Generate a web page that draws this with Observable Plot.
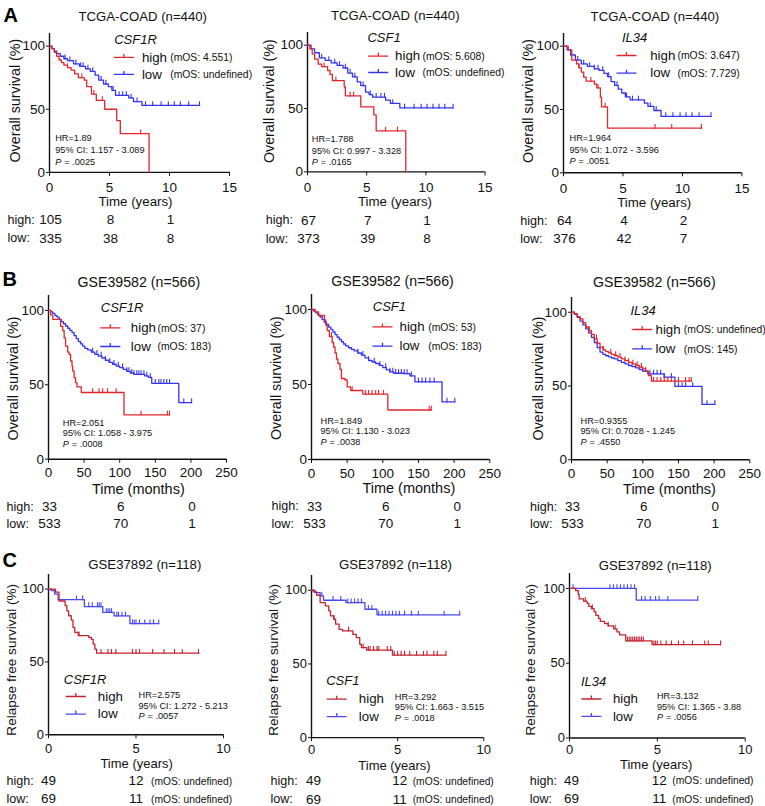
<!DOCTYPE html>
<html><head><meta charset="utf-8">
<script src="https://cdn.jsdelivr.net/npm/d3@7"></script>
<script src="https://cdn.jsdelivr.net/npm/@observablehq/plot@0.6"></script>
<style>
html,body{margin:0;padding:0;background:#fff;overflow:hidden;}
#chart{position:relative;width:765px;height:806px;font-family:"Liberation Sans",Arial,Helvetica,sans-serif;}
#chart svg{position:absolute;}
</style></head><body><div id="chart"></div>
<script>
// ---------- DATA ----------
const xTicksYears15 = [0,5,10,15];
const xTicksMonths = [0,50,100,150,200,250];
const xTicksYears10 = [0,5,10];
const yTicks = [0,50,100];

// Row A: TCGA-COAD, overall survival (years)
const a1High = [[0,100],[0.2,98],[0.4,95],[0.6,92],[0.8,89],[1.0,87],[1.2,85],[1.5,83],[1.8,81],[2.1,78],[2.4,75],[2.9,73],[3.1,68],[3.5,62],[3.9,57],[4.6,50],[5.6,41],[5.9,30.7],[8.3,0]];
const a1HighCens = [1.5,2.7,3.7,4.4,7.6];
const a1Low = [[0,100],[0.2,98],[0.4,96],[0.6,94],[0.9,92],[1.2,90],[1.5,88.5],[2,86],[2.5,84],[3,82],[3.4,80],[3.8,77],[4.1,73],[4.5,70],[4.9,68],[5.2,65],[5.5,61],[6.6,59],[7.0,56],[7.7,53],[12.5,53]];
const a1LowCens = [1.3,1.7,2.2,2.6,2.8,3.2,3.6,4.3,4.7,5.3,5.8,6.1,6.4,6.8,7.3,8.0,8.6,9.3,9.9,10.4,10.9,11.6,12.5];

const a2High = [[0,100],[0.2,97],[0.4,93],[0.6,89],[0.9,85],[1.2,83],[1.7,80],[1.9,77],[2.1,72],[3.1,67],[3.2,60],[4.5,51.3],[5.6,45],[5.8,32.4],[8.3,0]];
const a2HighCens = [1.4,2.4,3.6,3.9,6.6,7.6];
const a2Low = [[0,100],[0.3,97],[0.6,94],[1,90],[1.5,88],[2,86],[2.5,84],[3,82],[3.4,78],[3.8,75],[4.2,71],[4.5,68],[4.9,63],[5.2,61],[5.5,59],[6.6,56.6],[7.0,54],[7.8,50.5],[12.3,50.5]];
const a2LowCens = [1.2,1.8,2.3,2.7,3.2,3.6,4.0,4.7,5.3,5.8,6.2,6.5,7.2,8.2,9.0,9.6,10.1,10.6,11.1,11.6,12.3];

const a3High = [[0,100],[0.4,97],[0.7,89],[1.1,86],[1.3,83],[1.5,79.5],[1.7,75.5],[1.9,72.4],[2.6,70],[2.8,67],[3.1,59.7],[3.2,52],[3.7,35.3],[11.6,35.3]];
const a3HighCens = [1.3,2.3,2.9,3.5,7.7,9.1,11.6];
const a3Low = [[0,100],[0.3,97],[0.6,93],[1,89],[1.5,86],[2,84],[2.6,82],[3,80.8],[3.4,78.5],[3.7,76],[4,72],[4.3,69],[4.6,66],[4.9,63],[5.2,60],[5.6,57.6],[6.8,55],[7.1,52.4],[7.6,49.2],[8.2,44.5],[12.4,44.5]];
const a3LowCens = [1.2,1.7,2.2,2.6,2.9,3.3,3.8,4.5,5.3,5.8,6.3,7.3,7.8,8.6,9.2,9.8,10.3,10.8,11.4,12.4];

// Row B: GSE39582, overall survival (months)
const b1High = [[0,100],[3,97],[6,94],[17,89.3],[20,86.4],[22,81.5],[24,76],[27,72],[29,70.4],[31,66],[33,62.6],[34,59.2],[36,54.8],[38,51.4],[40,48.6],[46,44.8],[106,29.8],[170,29.8]];
const b1HighCens = [62,71,76,83,95,130,167,170];
const b1Low = [[0,100],[3,99],[6,98],[9,96.5],[12,95.5],[15,94],[18,92.5],[21,91],[24,89.5],[27,88],[30,86.5],[33,85],[36,83],[39,81],[42,79],[45,77.5],[48,76],[51,74.5],[55,73.5],[60,72],[65,70.5],[70,69.3],[75,68],[80,66.5],[85,65],[90,63.8],[95,62.6],[100,61.5],[105,60.3],[110,59],[115,57.8],[120,57],[135,56],[140,55],[145,51],[183,38],[201,38]];
const b1LowCens = [62,68,74,80,86,92,98,104,110,113,117,120,124,127,130,134,138,143,150,155,158,162,166,170,190,201];

const b2High = [[0,100],[5,98.4],[10,96],[18,93],[20,89.6],[22,86],[25,82],[29,78],[31,75],[33,71],[35,67],[37,64],[40,60],[42,54],[47,53],[50,48.4],[55,46],[72,43.6],[107,33],[168,33]];
const b2HighCens = [28,57,76,80,85,90,94,101,165,168];
const b2Low = [[0,100],[3,99],[6,97.8],[9,96.3],[12,95],[15,93.3],[18,91.5],[21,90],[24,88.3],[27,86.8],[30,85],[33,83.3],[36,81.5],[39,80],[42,78.5],[45,77],[48,75.7],[52,74.5],[56,73.4],[60,72.4],[65,71],[70,69.6],[75,67.8],[80,66],[85,65],[90,64],[95,62.7],[100,61.3],[105,59.8],[110,58.4],[115,57.5],[130,57.3],[138,55.8],[145,51.8],[183,38.4],[201,38.4]];
const b2LowCens = [65,72,80,88,96,104,110,114,118,122,126,130,134,140,150,155,160,166,172,190,201];

const b3High = [[0,100],[4,99],[8,97],[12,95.5],[16,93],[20,90],[24,87.5],[28,85],[32,82],[36,79],[40,76.3],[44,74.5],[48,73.3],[52,72.4],[56,71.5],[60,70.7],[65,69.6],[70,68.4],[75,67.2],[80,66],[85,65],[90,63.9],[95,62.8],[100,61.6],[104,60],[108,57],[112,53.3],[168,53.3]];
const b3HighCens = [25,35,45,55,62,68,75,80,86,92,98,104,115,120,125,130,135,140,150,160,165,168];
const b3Low = [[0,100],[4,98.5],[8,96.5],[12,94],[16,91.5],[20,88.7],[24,86],[28,83],[32,79.5],[36,76],[40,73],[44,71.5],[48,70.5],[52,69.8],[56,69],[60,68.4],[65,67.2],[70,66],[75,65],[80,63.9],[85,63.1],[90,62.3],[95,61.2],[100,60],[107,58.2],[130,56],[145,49.7],[183,37.5],[201,37.5]];
const b3LowCens = [110,115,120,125,130,140,150,155,160,170,190,201];

// Row C: GSE37892, relapse free survival (years)
const c1High = [[0,100],[0.4,97.9],[0.6,91.8],[0.95,88.6],[1.05,85],[1.15,81.7],[1.3,78.7],[1.4,73.7],[1.5,70.3],[1.7,68],[2.3,66.8],[2.45,65.5],[2.55,62.2],[2.65,58.8],[2.75,56],[8.6,56]];
const c1HighCens = [1.75,3.0,3.4,3.6,3.85,4.8,5.0,5.2,5.95,6.6,7.2,7.65,8.57];
const c1Low = [[0,100],[0.15,98.9],[0.35,96.6],[0.55,92.7],[2.05,88],[3.1,84],[3.75,81.6],[4.65,76.3],[6.3,76.3]];
const c1LowCens = [1.6,1.95,2.3,2.5,2.8,2.9,3.0,3.3,3.4,3.5,3.6,3.9,4.0,4.2,4.4,4.8,4.9,5.0,5.2,5.5,5.8,6.0,6.3];

const c2High = [[0,100],[0.1,98.9],[0.3,96.6],[0.5,91.6],[0.8,89.4],[1.0,86],[1.1,82.6],[1.3,80.3],[1.4,77],[1.6,73.5],[1.8,72.4],[2.4,70],[2.6,67.9],[2.8,63.3],[2.9,61],[3.2,59.3],[4.7,56],[7.8,56]];
const c2HighCens = [1.3,2.15,3.0,3.3,3.4,3.6,3.8,3.9,4.4,4.6,4.8,5.0,5.2,5.4,5.7,6.1,6.5,6.7,7.1,7.3,7.8];
const c2Low = [[0,100],[0.2,98.4],[0.5,96.2],[0.7,93.2],[2.0,91.6],[3.1,87.1],[3.8,83.3],[8.6,83.3]];
const c2LowCens = [0.6,1.25,1.7,2.1,2.3,2.5,2.7,2.9,3.3,3.5,3.9,4.1,4.3,4.5,4.7,4.9,5.1,5.4,5.8,6.2,7.7,8.6];

const c3High = [[0,100],[0.35,98.5],[0.5,96],[0.55,93],[0.8,91.5],[1.0,90],[1.1,88],[1.25,86.5],[1.4,84.5],[1.5,82],[1.65,80],[1.75,78],[2.0,76.5],[2.2,75],[2.5,73],[2.7,71],[2.85,69],[3.2,65],[4.7,62.4],[8.6,62.4]];
const c3HighCens = [0.9,1.3,2.2,2.6,3.3,3.4,3.5,3.6,3.7,3.8,3.9,4.0,4.1,4.2,4.8,4.9,5.0,5.2,5.5,5.8,6.2,6.5,7.0,7.7,7.9,8.6];
const c3Low = [[0,100],[3.8,92.2],[7.3,92.2]];
const c3LowCens = [0.2,2.3,2.5,2.7,2.9,3.1,3.3,3.5,3.7,4.1,4.3,4.6,4.9,5.1,5.6,7.3];

// Legend / statistics text
const a1Mos = ["(mOS: 4.551)","(mOS: undefined)"];
const a2Mos = ["(mOS: 5.608)","(mOS: undefined)"];
const a3Mos = ["(mOS: 3.647)","(mOS: 7.729)"];
const b1Mos = ["(mOS: 37)","(mOS: 183)"];
const b2Mos = ["(mOS: 53)","(mOS: 183)"];
const b3Mos = ["(mOS: undefined)","(mOS: 145)"];
const cMos = ["(mOS: undefined)","(mOS: undefined)"];

const a1Stats = ["HR=1.89","95% CI: 1.157 - 3.089","= .0025"];
const a2Stats = ["HR=1.788","95% CI: 0.997 - 3.328","= .0165"];
const a3Stats = ["HR=1.964","95% CI: 1.072 - 3.596","= .0051"];
const b1Stats = ["HR=2.051","95% CI: 1.058 - 3.975","= .0008"];
const b2Stats = ["HR=1.849","95% CI: 1.130 - 3.023","= .0038"];
const b3Stats = ["HR=0.9355","95% CI: 0.7028 - 1.245","= .4550"];
const c1Stats = ["HR=2.575","95% CI: 1.272 - 5.213","= .0057"];
const c2Stats = ["HR=3.292","95% CI: 1.663 - 3.515","= .0018"];
const c3Stats = ["HR=3.132","95% CI: 1.365 - 3.88","= .0056"];

// Numbers at risk
const riskTimesA = [0,5,10];
const riskTimesB = [0,100,200];
const riskTimesC = [0,5];
const a1RiskHigh = [105,8,1], a1RiskLow = [335,38,8];
const a2RiskHigh = [67,7,1],  a2RiskLow = [373,39,8];
const a3RiskHigh = [64,4,2],  a3RiskLow = [376,42,7];
const bRiskHigh = [33,6,0],   bRiskLow = [533,70,1];
const cRiskHigh = [49,12],    cRiskLow = [69,11];

// ---------- RENDER ----------
const FONT = '"Liberation Sans", Arial, Helvetica, sans-serif';
const RED = "#e3262c", BLUE = "#3434ee", RED_C = "#c3242f", BLUE_C = "#4848f4";
const chart = document.getElementById("chart");
const tickSym = {draw(ctx){ ctx.moveTo(0,0.6); ctx.lineTo(0,-4.2); }};
const legSym = {draw(ctx){ ctx.moveTo(-10,0); ctx.lineTo(10,0); ctx.moveTo(0,0); ctx.lineTo(0,-3.5); }};
function stepAt(curve, t){ let v = curve[0][1]; for (const [x,y] of curve){ if (x <= t) v = y; else break; } return v; }

function panel(p){
  const [L,R,T,B] = p.frame;
  const mL=56, mR=30, mT=38, mB=84;
  const W = R-L+mL+mR, H = B-T+mT+mB;
  const at = (x,y) => ({frameAnchor:"top-left", dx:x-L, dy:y-T});
  const txt = (s, o) => Plot.text([s], {text:d=>d, fill:"#111", fontFamily:FONT, lineAnchor:"middle", ...o});
  const marks = [];
  marks.push(Plot.ruleY([0], {stroke:"#111", strokeWidth:1.4}));
  marks.push(Plot.ruleX([0], {stroke:"#111", strokeWidth:1.4}));
  for (const [curve, cens, color] of [[p.low,p.lowCens,p.blue],[p.high,p.highCens,p.red]]){
    marks.push(Plot.line(curve, {x:d=>d[0], y:d=>d[1], curve:"step-after", stroke:color, strokeWidth:1.3}));
    marks.push(Plot.dot(cens, {x:d=>d, y:d=>stepAt(curve,d), symbol:tickSym, stroke:color, fill:"none", strokeWidth:1.1}));
  }
  if (p.letter) marks.push(txt(p.letter, {...at(...p.letterPos), textAnchor:"start", fontSize:20, fontWeight:"bold", fill:"#000"}));
  marks.push(txt(p.title, {...at(...p.titlePos), textAnchor:"middle", fontSize:p.titleSize}));
  marks.push(txt(p.ylabel, {...at(...p.ylabelPos), textAnchor:"middle", rotate:-90, fontSize:p.ylabelSize}));
  marks.push(txt(p.xlabel, {...at(...p.xlabelPos), textAnchor:"middle", fontSize:p.xlabelSize}));
  // legend
  marks.push(txt(p.gene, {...at(...p.genePos), textAnchor:"start", fontSize:13, fontStyle:"italic"}));
  const groups = [["high", p.red], ["low", p.blue]];
  groups.forEach(([name, color], i) => {
    const y = p.legY[i];
    marks.push(Plot.dot([0], {...at(p.legLineX, y), symbol:legSym, stroke:color, fill:"none", strokeWidth:1.3}));
    marks.push(txt(name, {...at(p.legTextX, y), textAnchor:"start", fontSize:13.3}));
    if (p.mos) marks.push(txt(p.mos[i], {...at(p.mosX, y+0.5), textAnchor:"start", fontSize:10.4}));
  });
  // stats
  const [sx, sy] = p.statsPos;
  marks.push(txt(p.stats[0], {...at(sx, sy[0]), textAnchor:"start", fontSize:9.2}));
  marks.push(txt(p.stats[1], {...at(sx, sy[1]), textAnchor:"start", fontSize:9.2}));
  marks.push(txt("P", {...at(sx, sy[2]), textAnchor:"start", fontSize:9.2, fontStyle:"italic"}));
  marks.push(txt(p.stats[2], {...at(sx+9, sy[2]), textAnchor:"start", fontSize:9.2}));
  // numbers at risk
  [["high:", p.riskHigh], ["low:", p.riskLow]].forEach(([lab, vals], i) => {
    const y = p.riskY[i];
    marks.push(txt(lab, {...at(p.riskLabelX, y), textAnchor:"start", fontSize:12.6}));
    marks.push(Plot.text(p.riskTimes.map((t,k)=>({t, n:vals[k]})), {x:"t", text:d=>String(d.n), frameAnchor:"bottom", dy:y-B, dx:p.riskNumDx || 0, lineAnchor:"middle", textAnchor:"middle", fontSize:13.5, fontFamily:FONT, fill:"#111"}));
    if (p.riskMos) marks.push(Plot.text([p.riskTimes[p.riskTimes.length-1]], {x:d=>d, text:()=>p.riskMos[i], frameAnchor:"bottom", dy:y-B+0.5, dx:p.riskMosDx, lineAnchor:"middle", textAnchor:"start", fontSize:10.3, fontFamily:FONT, fill:"#111"}));
  });

  const svg = Plot.plot({
    width:W, height:H, marginLeft:mL, marginRight:mR, marginTop:mT, marginBottom:mB,
    x:{domain:[0,p.xMax], ticks:p.xTicks, tickSize:4, tickPadding:p.xPad, label:null},
    y:{domain:[0,110], ticks:yTicks, tickSize:3, tickPadding:1.6, label:null},
    style:{background:"transparent", overflow:"visible", fontFamily:FONT, fontSize:p.tickFont, color:"#111"},
    marks
  });
  svg.style.left = (L-mL)+"px";
  svg.style.top = (T-mT)+"px";
  svg.style.maxWidth = "none";
  chart.appendChild(svg);
}

const common = {
  A:{xMax:15, xTicks:xTicksYears15, xPad:6.5, tickFont:"13.5px", ylabel:"Overall survival (%)", ylabelSize:14.3, xlabel:"Time (years)", xlabelSize:13.3, title:"TCGA-COAD (n=440)", titleSize:13.2, red:RED, blue:BLUE, riskTimes:riskTimesA, riskY:[220,238.3], riskNumDx:1},
  B:{xMax:250, xTicks:xTicksMonths, xPad:4.6, tickFont:"13.5px", ylabel:"Overall survival (%)", ylabelSize:14.3, xlabel:"Time (months)", xlabelSize:14.5, title:"GSE39582 (n=566)", titleSize:14.2, red:RED, blue:BLUE, riskTimes:riskTimesB, riskY:[506,523.3], riskHigh:bRiskHigh, riskLow:bRiskLow, riskNumDx:1},
  C:{xMax:10, xTicks:xTicksYears10, xPad:4.6, tickFont:"13px", ylabel:"Relapse free survival (%)", ylabelSize:13.6, xlabel:"Time (years)", xlabelSize:13, title:"GSE37892 (n=118)", titleSize:13.2, red:RED_C, blue:BLUE_C, riskTimes:riskTimesC, riskY:[780,798.3], riskHigh:cRiskHigh, riskLow:cRiskLow, riskMos:cMos, riskMosDx:15, riskNumDx:0}
};

const panels = [
  {...common.A, frame:[49.3,229.3,33.4,172.3], letter:"A", letterPos:[3.3,15], titlePos:[142.5,16.5], ylabelPos:[15,100.5], xlabelPos:[135.3,202],
   high:a1High, highCens:a1HighCens, low:a1Low, lowCens:a1LowCens, gene:"CSF1R", genePos:[114,39.3], legLineX:123.7, legY:[57.3,74.3], legTextX:141.7, mosX:170, mos:a1Mos,
   stats:a1Stats, statsPos:[55,[137.5,150,162]], riskHigh:a1RiskHigh, riskLow:a1RiskLow, riskLabelX:7.3},
  {...common.A, frame:[306.7,484.3,32.3,171.7], titlePos:[394.5,16], ylabelPos:[269,101], xlabelPos:[394.2,202],
   high:a2High, highCens:a2HighCens, low:a2Low, lowCens:a2LowCens, gene:"CSF1", genePos:[366.7,37.5], legLineX:377.5, legY:[56,72.3], legTextX:394.3, mosX:421.7, mos:a2Mos,
   stats:a2Stats, statsPos:[311,[138.8,150.8,161.5]], riskHigh:a2RiskHigh, riskLow:a2RiskLow, riskLabelX:265},
  {...common.A, frame:[563.3,741.7,33,172.3], titlePos:[654.7,16.3], ylabelPos:[528.3,100.5], xlabelPos:[654,202],
   high:a3High, highCens:a3HighCens, low:a3Low, lowCens:a3LowCens, gene:"IL34", genePos:[621.7,37.7], legLineX:626.3, legY:[55,72.7], legTextX:650, mosX:677.3, mos:a3Mos,
   stats:a3Stats, statsPos:[569.3,[137.8,149.8,160.5]], riskHigh:a3RiskHigh, riskLow:a3RiskLow, riskLabelX:520},

  {...common.B, frame:[47.7,225.7,295,458.7], letter:"B", letterPos:[1.7,279], titlePos:[138,282.3], ylabelPos:[12.3,378], xlabelPos:[137.5,488.5],
   high:b1High, highCens:b1HighCens, low:b1Low, lowCens:b1LowCens, gene:"CSF1R", genePos:[100,307.3], legLineX:109.5, legY:[327.3,346], legTextX:130, mosX:156.7, mos:b1Mos,
   stats:b1Stats, statsPos:[62,[422.7,432.7,443.3]], riskLabelX:5.7},
  {...common.B, frame:[311,489.3,294.3,459.3], titlePos:[392,281.7], ylabelPos:[275.7,378], xlabelPos:[408.3,488.5],
   high:b2High, highCens:b2HighCens, low:b2Low, lowCens:b2LowCens, gene:"CSF1", genePos:[372.3,306.7], legLineX:382, legY:[326.7,346], legTextX:399, mosX:427.7, mos:b2Mos,
   stats:b2Stats, statsPos:[320,[420.7,431,441.7]], riskLabelX:271, riskNumDx:3},
  {...common.B, frame:[571,749.3,297,459.3], titlePos:[653.8,282.3], ylabelPos:[538.3,378], xlabelPos:[669,488.5],
   high:b3High, highCens:b3HighCens, low:b3Low, lowCens:b3LowCens, gene:"IL34", genePos:[630,310], legLineX:641.7, legY:[329,348.3], legTextX:655, mosX:683.3, mos:b3Mos,
   stats:b3Stats, statsPos:[580,[420.7,431,442]], riskLabelX:529.5},

  {...common.C, frame:[47.7,222.7,573.7,734], letter:"C", letterPos:[1.7,559.7], titlePos:[144,563.5], ylabelPos:[11,659], xlabelPos:[135.8,763.5],
   high:c1High, highCens:c1HighCens, low:c1Low, lowCens:c1LowCens, gene:"CSF1R", genePos:[63,679], legLineX:75, legY:[695.7,713.3], legTextX:97,
   stats:c1Stats, statsPos:[137.7,[694.3,705,715]], riskLabelX:5.7},
  {...common.C, frame:[311,483.3,574.6,736.7], xPad:3.4, titlePos:[395,564.3], ylabelPos:[273.3,659], xlabelPos:[394,764.5],
   high:c2High, highCens:c2HighCens, low:c2Low, lowCens:c2LowCens, gene:"CSF1", genePos:[325.7,680], legLineX:336.2, legY:[698.3,715.7], legTextX:358.3,
   stats:c2Stats, statsPos:[394.3,[695.7,706,716.7]], riskLabelX:270, riskNumDx:2},
  {...common.C, frame:[569.3,745,572.8,737.3], xPad:3.2, titlePos:[655,565], ylabelPos:[530.7,659], xlabelPos:[656,764.5],
   high:c3High, highCens:c3HighCens, low:c3Low, lowCens:c3LowCens, gene:"IL34", genePos:[580.7,680.7], legLineX:591.2, legY:[698.3,715.7], legTextX:612.7,
   stats:c3Stats, statsPos:[656.7,[695.7,706.3,716.7]], riskLabelX:529.5, riskNumDx:2}
];

panels.forEach(panel);
</script></body></html>
